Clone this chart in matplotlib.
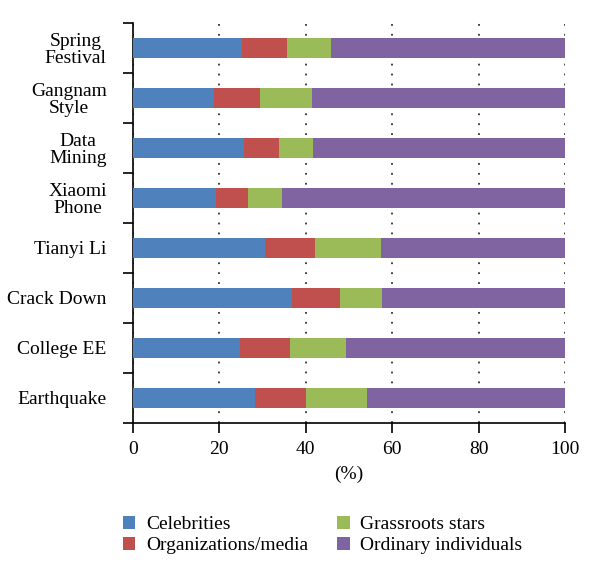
import numpy as np
import matplotlib
matplotlib.use("Agg")
import matplotlib.pyplot as plt
from matplotlib.patches import Patch

# Темы снизу вверх (как на оси Y)
topics = ["Earthquake", "College EE", "Crack Down", "Tianyi Li",
          "Xiaomi\nPhone", "Data\nMining", "Gangnam\nStyle", "Spring\nFestival"]

# Доли типов пользователей, %
celebrities = [28.2, 24.8, 36.9, 30.5, 19.1, 25.6, 18.7, 25.2]
organizations = [11.8, 11.5, 10.9, 11.6, 7.4, 8.1, 10.7, 10.4]
grassroots = [14.1, 12.9, 9.8, 15.2, 8.1, 8.0, 12.1, 10.2]
ordinary = [45.9, 50.8, 42.4, 42.7, 65.4, 58.3, 58.5, 54.2]

series_names = ["Celebrities", "Organizations/media", "Grassroots stars", "Ordinary individuals"]
colors = ["#4F81BD", "#C0504D", "#9BBB59", "#8064A2"]

plt.rcParams['font.family'] = ['Liberation Serif', 'DejaVu Serif']

fig = plt.figure(figsize=(6, 5.78), dpi=100)
ax = fig.add_axes([0.2217, 0.2687, 0.72, 0.692])

y = np.arange(len(topics))
left = np.zeros(len(topics))
for vals, col in zip([celebrities, organizations, grassroots, ordinary], colors):
    ax.barh(y, vals, left=left, height=0.4, color=col, zorder=3)
    left += np.array(vals)

ax.set_xlim(0, 100)
ax.set_ylim(-0.5, len(topics) - 0.5)
ax.set_xticks([0, 20, 40, 60, 80, 100])
ax.tick_params(axis='x', direction='out', length=7, width=1.2, labelsize=14, pad=6)
ax.xaxis.grid(True, linestyle=(0, (1, 4.5)), color='#333333', linewidth=1.3, zorder=0)

# подписи по центру категорий, риски — на границах
ax.set_yticks(y)
ax.set_yticklabels(topics, fontsize=14, linespacing=1.05, multialignment='center')
ax.tick_params(axis='y', which='major', length=0, pad=19)
ax.set_yticks(np.arange(-0.5, len(topics), 1.0), minor=True)
ax.tick_params(axis='y', which='minor', direction='out', length=7, width=1.2)

for s in ['top', 'right']:
    ax.spines[s].set_visible(False)
for s in ['left', 'bottom']:
    ax.spines[s].set_linewidth(1.2)

ax.set_xlabel("(%)", fontsize=14, labelpad=6)

handles = [Patch(facecolor=c, edgecolor='none') for c in colors]
fig.legend(handles, series_names, loc='upper left', bbox_to_anchor=(0.175, 0.138),
           ncol=2, frameon=False, fontsize=14, handlelength=0.65, handleheight=0.65,
           handletextpad=0.55, columnspacing=1.5, labelspacing=0.2)

fig.savefig("out.png", dpi=100)
